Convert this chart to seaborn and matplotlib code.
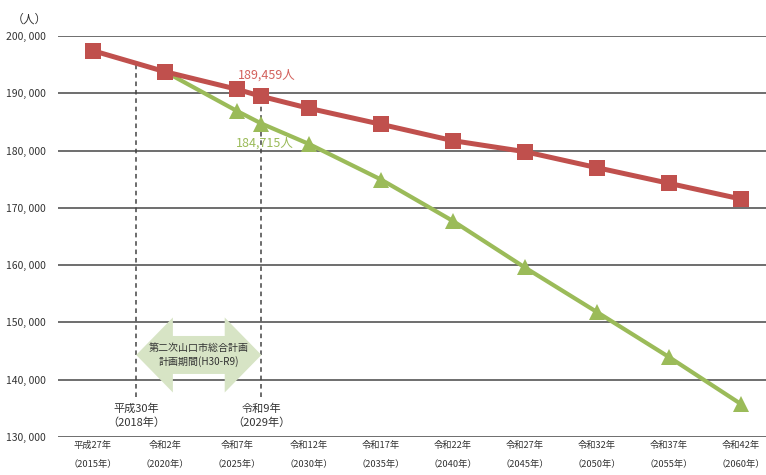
import matplotlib
matplotlib.use("Agg")
import matplotlib.pyplot as plt
from matplotlib.patches import Polygon
import seaborn as sns
import pandas as pd

# Projection horizon (x positions on the category axis; 2029 sits between 2025 and 2030)
year_labels = ["平成27年\n（2015年）", "令和2年\n（2020年）", "令和7年\n（2025年）",
               "令和12年\n（2030年）", "令和17年\n（2035年）", "令和22年\n（2040年）",
               "令和27年\n（2045年）", "令和32年\n（2050年）", "令和37年\n（2055年）",
               "令和42年\n（2060年）"]
tick_pos = [0, 1, 2, 3, 4, 5, 6, 7, 8, 9]

# Baseline projection (red squares)
red_pos = [0, 1, 2, 2.34, 3, 4, 5, 6, 7, 8, 9]
red_vals = [197430, 193770, 190700, 189459, 187380, 184590, 181730, 179810, 177020, 174290, 171550]

# Projection with current trends (green triangles)
green_pos = [1, 2, 2.34, 3, 4, 5, 6, 7, 8, 9]
green_vals = [193770, 186910, 184715, 181150, 174950, 167710, 159590, 151820, 143970, 135770]

# Plan period markers
plan_start_pos, plan_end_pos = 0.6, 2.34
plan_start_label = "平成30年\n（2018年）"
plan_end_label = "令和9年\n（2029年）"
plan_text = "第二次山口市総合計画\n計画期間(H30-R9)"

y_ticks = [130000, 140000, 150000, 160000, 170000, 180000, 190000, 200000]

RED = "#c0504d"
GREEN = "#9bbb59"
GRID = "#555555"
TXT = "#333333"

sns.set_theme(style="white")
plt.rcParams["font.family"] = ["Noto Sans CJK JP", "DejaVu Sans"]

fig = plt.figure(figsize=(7.66, 4.75), dpi=100)
ax = fig.add_axes([58 / 766, 1 - 437 / 475, 1 - 58 / 766, (437 - 36) / 475])

df_red = pd.DataFrame({"x": red_pos, "v": red_vals})
df_green = pd.DataFrame({"x": green_pos, "v": green_vals})

sns.lineplot(data=df_green, x="x", y="v", ax=ax, color=GREEN, lw=3.0,
             marker="^", markersize=11, markeredgewidth=0, zorder=4)
sns.lineplot(data=df_red, x="x", y="v", ax=ax, color=RED, lw=3.6,
             marker="s", markersize=11.5, markeredgewidth=0, zorder=5)

ax.set_xlim(-0.486, 9.35)
ax.set_ylim(130000, 200000)

# horizontal grid
for yt in y_ticks:
    ax.axhline(yt, color=GRID, lw=1.2, zorder=1)
for s in ax.spines.values():
    s.set_visible(False)

ax.set_yticks(y_ticks)
ax.set_yticklabels([f"{v:,}".replace(",", ", ") for v in y_ticks], fontsize=7.5, color=TXT)
ax.set_xticks(tick_pos)
ax.set_xticklabels(year_labels, fontsize=6.7, color=TXT, linespacing=2.4)
ax.tick_params(axis="x", length=0, pad=3)
ax.tick_params(axis="y", length=0, pad=9)
ax.set_xlabel("")
ax.set_ylabel("")

fig.text(12 / 766, 1 - 19 / 475, "（人）", fontsize=8.5, color=TXT, va="center", ha="left")

# plan period dashed markers
ax.plot([plan_start_pos, plan_start_pos], [137000, 195300], ls=(0, (3, 2.5)), color="#444444", lw=1.1, zorder=2)
ax.plot([plan_end_pos, plan_end_pos], [137000, 188700], ls=(0, (3, 2.5)), color="#444444", lw=1.1, zorder=2)
ax.text(plan_start_pos, 133700, plan_start_label, ha="center", va="center", fontsize=8, color=TXT, linespacing=1.35)
ax.text(plan_end_pos, 133700, plan_end_label, ha="center", va="center", fontsize=8, color=TXT, linespacing=1.35)

# double-headed block arrow for the plan period
yc, head_h, shaft_h, head_l = 144320, 6545, 3316, 0.51
a, b = plan_start_pos, plan_end_pos
arrow = Polygon([
    (a, yc), (a + head_l, yc + head_h), (a + head_l, yc + shaft_h),
    (b - head_l, yc + shaft_h), (b - head_l, yc + head_h), (b, yc),
    (b - head_l, yc - head_h), (b - head_l, yc - shaft_h),
    (a + head_l, yc - shaft_h), (a + head_l, yc - head_h)],
    closed=True, facecolor="#d7e4c5", edgecolor="none", zorder=3)
ax.add_patch(arrow)
ax.text((a + b) / 2, yc, plan_text, ha="center", va="center", fontsize=7.2, color=TXT, linespacing=1.25, zorder=4)

# value labels at 2029
ax.text(plan_end_pos + 0.07, red_vals[3] + 3700, f"{red_vals[3]:,}人", ha="center", va="center",
        fontsize=9, color="#d3625d", zorder=6)
ax.text(plan_end_pos + 0.05, green_vals[2] - 3400, f"{green_vals[2]:,}人", ha="center", va="center",
        fontsize=9, color=GREEN, zorder=6)

fig.savefig("out.png", dpi=100)
